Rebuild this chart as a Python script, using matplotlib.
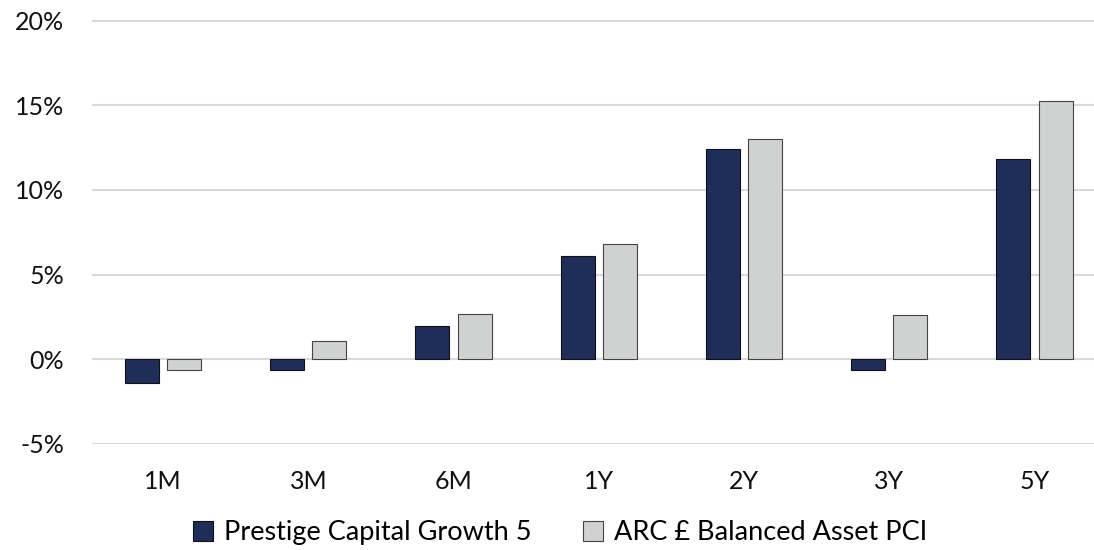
import matplotlib.pyplot as plt
import numpy as np

periods = ["1M", "3M", "6M", "1Y", "2Y", "3Y", "5Y"]
prestige = [-1.42, -0.65, 1.95, 6.08, 12.42, -0.65, 11.82]
arc_balanced = [-0.62, 1.08, 2.68, 6.8, 12.98, 2.62, 15.25]

yticks = [-5, 0, 5, 10, 15, 20]

DARK = "#1e2d5a"
LIGHT = "#d0d2d1"
GRID = "#d9d9d9"

plt.rcParams["font.family"] = ["Lato", "DejaVu Sans"]

fig = plt.figure(figsize=(10.94, 5.5), dpi=100)
ax = fig.add_axes([0.084, 0.193, 0.916, 0.785])

x = np.arange(len(periods))
width = 0.234
offset = 0.145
ax.bar(x - offset, prestige, width, color=DARK, edgecolor="#111111",
       linewidth=0.8, label="Prestige Capital Growth 5", zorder=3)
ax.bar(x + offset, arc_balanced, width, color=LIGHT, edgecolor="#444444",
       linewidth=0.8, label="ARC £ Balanced Asset PCI", zorder=3)

ax.set_xlim(-0.49, 6.41)
ax.set_ylim(-5, 20.5)
ax.set_yticks(yticks)
ax.set_yticklabels([f"{t}%" for t in yticks])
ax.set_xticks(x)
ax.set_xticklabels(periods)
ax.grid(axis="y", color=GRID, linewidth=1.5, zorder=0)
for s in ax.spines.values():
    s.set_visible(False)
ax.tick_params(length=0, labelsize=18, colors="#111111")
ax.tick_params(axis="x", pad=19)
ax.tick_params(axis="y", pad=20)

ax.legend(loc="center", bbox_to_anchor=(0.467, -0.206), ncol=2,
          frameon=False, fontsize=19.5, handlelength=0.75, handleheight=0.75,
          columnspacing=1.9, handletextpad=0.4)

fig.savefig("out.png", dpi=100, facecolor="white")
